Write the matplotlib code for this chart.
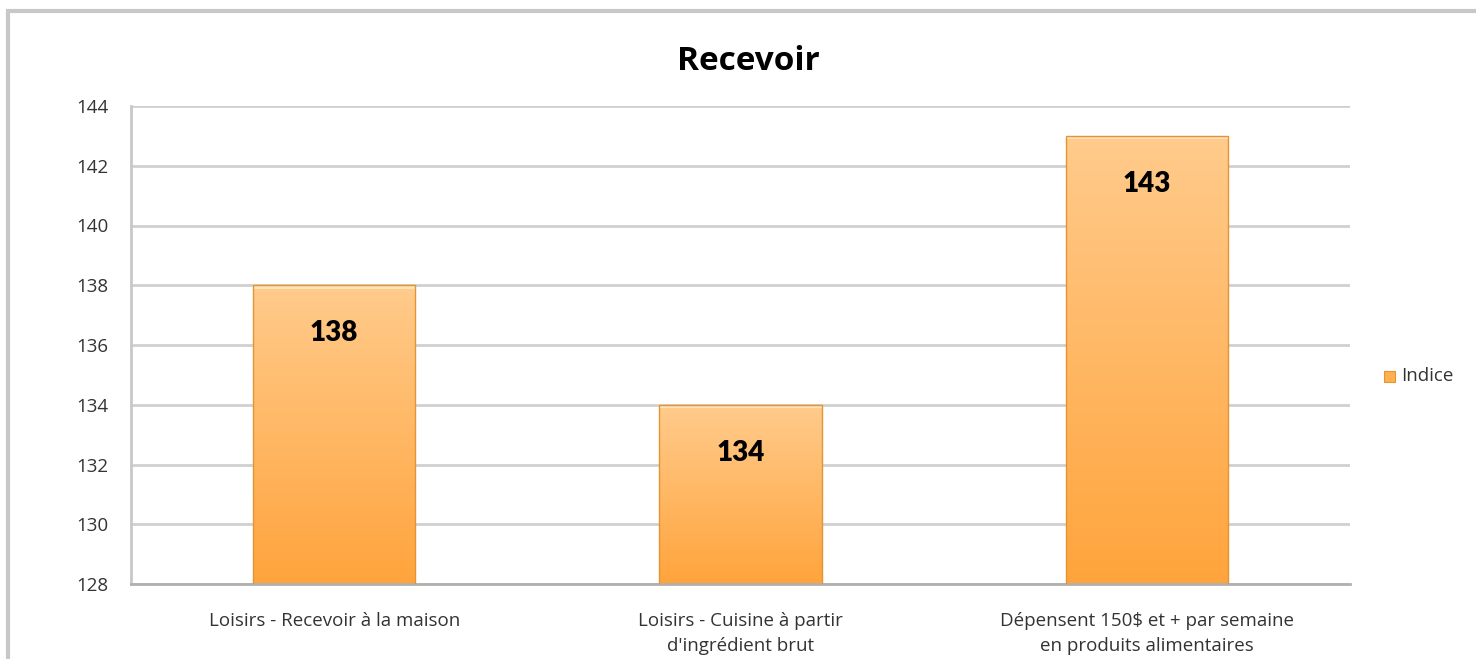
import numpy as np
import matplotlib.pyplot as plt
from matplotlib.patches import Rectangle
from matplotlib.colors import LinearSegmentedColormap

categories = ["Loisirs - Recevoir à la maison",
              "Loisirs - Cuisine à partir\nd'ingrédient brut",
              "Dépensent 150$ et + par semaine\nen produits alimentaires"]
values = [138, 134, 143]
yticks = [128, 130, 132, 134, 136, 138, 140, 142, 144]

fig = plt.figure(figsize=(14.76, 6.59), dpi=100)
ax = fig.add_axes([131/1476, 1 - 584/659, (1350-131)/1476, (584-106)/659])

# outer chart frame
fig.patches.append(Rectangle((8/1476, -0.01), 1.2, 1 - 11/659 + 0.01, transform=fig.transFigure,
                             fill=False, edgecolor='#c8c8c8', linewidth=3))

x = np.arange(len(categories))
bars = ax.bar(x, values, width=0.4, bottom=0, color='none', edgecolor='#e39433', linewidth=1, zorder=3)

cmap = LinearSegmentedColormap.from_list('orng', ['#ffa43c', '#ffcb8c'])
grad = np.linspace(0, 1, 256).reshape(-1, 1)
for bar, v in zip(bars, values):
    x0 = bar.get_x()
    w = bar.get_width()
    im = ax.imshow(grad, extent=[x0, x0 + w, 128, v], origin='lower', cmap=cmap,
                   aspect='auto', zorder=2)
    im.set_clip_path(bar)
    # light bevel on top
    ax.add_patch(Rectangle((x0, v - 0.12), w, 0.12, facecolor='#ffe2b8', edgecolor='none', zorder=2.5))
    ax.text(bar.get_x() + w / 2, v - 1.6, str(v), ha='center', va='center',
            fontsize=20, fontweight='heavy', family='Lato', color='black', zorder=4)

ax.set_xlim(-0.5, 2.5)
ax.set_ylim(128, 144)
ax.set_yticks(yticks)
ax.set_xticks(x)
ax.set_xticklabels(categories, fontsize=13.5, family='Open Sans', color='#333333', linespacing=1.55)
ax.tick_params(axis='y', labelsize=13.5, colors='#333333', length=0, pad=16)
ax.tick_params(axis='x', length=0, pad=20)
for lbl in ax.get_yticklabels():
    lbl.set_family('Open Sans')
ax.grid(axis='y', color='#d0d0d0', linewidth=2, zorder=0)
ax.set_axisbelow(True)
for s in ['top', 'right']:
    ax.spines[s].set_visible(False)
ax.spines['left'].set_color('#c8c8c8')
ax.spines['left'].set_linewidth(2)
ax.spines['bottom'].set_color('#b0b0b0')
ax.spines['bottom'].set_linewidth(2)

fig.text(748/1476, 1 - 62/659, 'Recevoir', ha='center', va='center', fontsize=24,
         fontweight='bold', family='Open Sans', color='black')

# legend
fig.patches.append(Rectangle((1384/1476, 1 - 382/659), 11/1476, 11/659, transform=fig.transFigure,
                             facecolor='#ffb04f', edgecolor='#e39433', linewidth=0.8))
fig.text(1401/1476, 1 - 376/659, 'Indice', ha='left', va='center', fontsize=13.5,
         family='Open Sans', color='#333333')

fig.savefig('out.png', dpi=100)
